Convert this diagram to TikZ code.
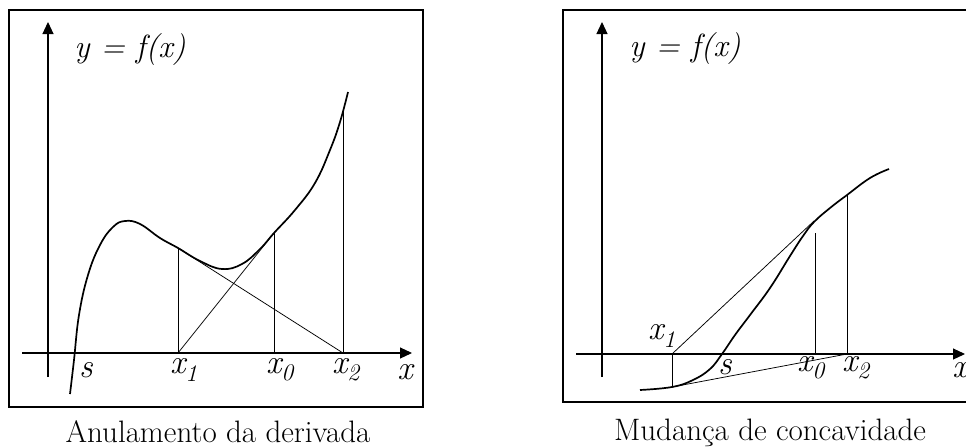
\documentclass[tikz,border=0pt]{standalone}
\usetikzlibrary{arrows.meta}

\begin{document}
\begin{tikzpicture}[
  x=1pt, y=-1pt,
  frame/.style={line width=2.6pt},
  axis/.style={line width=1.1pt, -{Triangle[length=12pt,width=11pt]}},
  curve/.style={line width=1.7pt, line join=round},
  thin/.style={line width=0.75pt},
  lab/.style={font=\itshape\fontsize{34}{38}\selectfont, inner sep=0pt},
  eqlab/.style={font=\itshape\fontsize{32}{36}\selectfont, inner sep=0pt},
  caption/.style={font=\fontsize{31}{36}\selectfont, inner sep=0pt}
]
\useasboundingbox (0,0) rectangle (966,447);
\clip (0,0) rectangle (966,447);

% --- left: anulamento da derivada
\draw [frame] (9,10) rectangle (423,407);
\draw [axis] (22,353) -- (412,353);
\draw [axis] (48,377) -- (48,22);

\draw [curve] plot[smooth, tension=0.7] coordinates {
  (70,394) (74,360) (79,315) (88,275) (100,245) (113,227) (125,221)
  (140,224) (160,238) (178,248) (200,261) (222,269) (242,264) (260,249)
  (274,233) (295,210) (315,183) (330,150) (340,122) (348,92)};

\coordinate (A1) at (178,353);
\coordinate (A0) at (274,353);
\coordinate (A2) at (343,353);
\coordinate (F1) at (178,248);
\coordinate (F0) at (274,233);
\coordinate (F2) at (343,112);

\draw [thin] (A1) -- (F1);
\draw [thin] (A0) -- (F0);
\draw [thin] (A2) -- (F2);
\draw [thin] (F1) -- (A2);
\draw [thin] (F0) -- (A1);

\node (fl)  [eqlab] at (130,50) {y = f(x)};
\node (sl)  [lab] at (86,370)  {s};
\node (x1l) [lab] at (184,370) {x\textsubscript{1}};
\node (x0l) [lab] at (280,370) {x\textsubscript{0}};
\node (x2l) [lab] at (346,370) {x\textsubscript{2}};
\node (xl)  [lab] at (405,372) {x};
\node (capl) [caption] at (218,432) {Anulamento da derivada};

% --- right: mudanca de concavidade
\draw [frame] (563,10) rectangle (980,402);
\draw [axis] (576,354) -- (965,354);
\draw [axis] (602,377) -- (602,22);

\draw [curve] plot[smooth, tension=0.7] coordinates {
  (640,390) (672,387) (693,380) (710,369) (722,354) (735,335) (750,315)
  (770,288) (790,256) (803,236) (814,222) (830,208) (847,195) (870,178)
  (889,169)};

\coordinate (B1) at (672,354);
\coordinate (B0) at (815,354);
\coordinate (B2) at (847,354);
\coordinate (G1) at (672,387);
\coordinate (G0) at (814,221);
\coordinate (H0) at (815,233);
\coordinate (G2) at (847,195);

\draw [thin] (B1) -- (G1);
\draw [thin] (B0) -- (H0);
\draw [thin] (B2) -- (G2);
\draw [thin] (B1) -- (G0);
\draw [thin] (G1) -- (B2);

\node (fr)  [eqlab] at (685,49) {y = f(x)};
\node (x1r) [lab] at (662,336) {x\textsubscript{1}};
\node (sr)  [lab] at (725,367) {s};
\node (x0r) [lab] at (811,368) {x\textsubscript{0}};
\node (x2r) [lab] at (856,368) {x\textsubscript{2}};
\node (xr)  [lab] at (960,370) {x};
\node (capr) [caption] at (770,433) {Mudança de concavidade};

\end{tikzpicture}
\end{document}
